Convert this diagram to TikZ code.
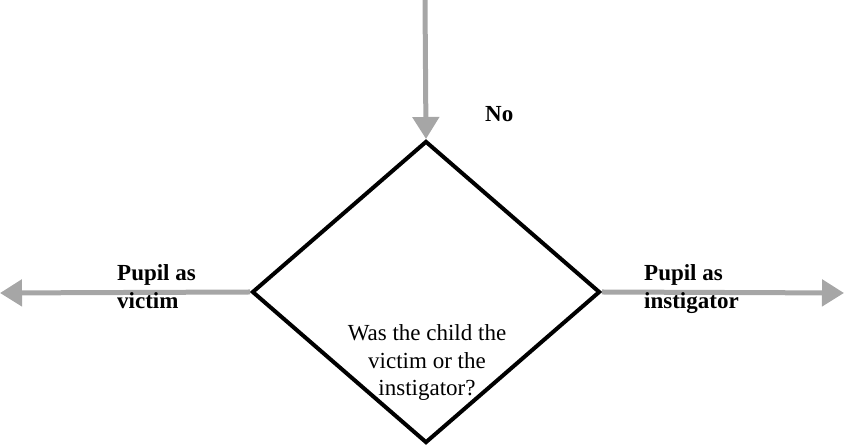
\documentclass[tikz,border=0pt]{standalone}
\usepackage{fontspec}
\setmainfont{Liberation Serif}
\usetikzlibrary{shapes.geometric,arrows.meta}
\definecolor{flowgray}{HTML}{A6A6A6}

\begin{document}
\begin{tikzpicture}[x=1pt,y=1pt,
  flow/.style={draw=flowgray,line width=5pt,-{Triangle[length=22pt,width=26pt]}},
  lbl/.style={font=\fontsize{23}{28}\selectfont\bfseries,align=left,inner sep=0pt},
  question/.style={font=\fontsize{23}{27.5}\selectfont,align=center,inner sep=0pt}]
\useasboundingbox (0,0) rectangle (844,446);
\node (q) at (426,154) [diamond,draw,line width=4pt,minimum width=348pt,minimum height=302pt,inner sep=0pt] {};
\coordinate (top) at (425,446);
\coordinate (left) at (0,153);
\coordinate (right) at (844,153);
\draw [flow] (top) -- (q.north);
\draw [flow] (q.west) -- (left);
\draw [flow] (q.east) -- (right);
\node (qtext) at (427,50) [question,anchor=base] {Was the child the\\victim or the\\instigator?};
\node (no) at (485,324) [lbl,anchor=base west] {No};
\node (victim) at (117,137.5) [lbl,anchor=base west] {Pupil as\\victim};
\node (instig) at (644,137.5) [lbl,anchor=base west] {Pupil as\\instigator};
\end{tikzpicture}
\end{document}
